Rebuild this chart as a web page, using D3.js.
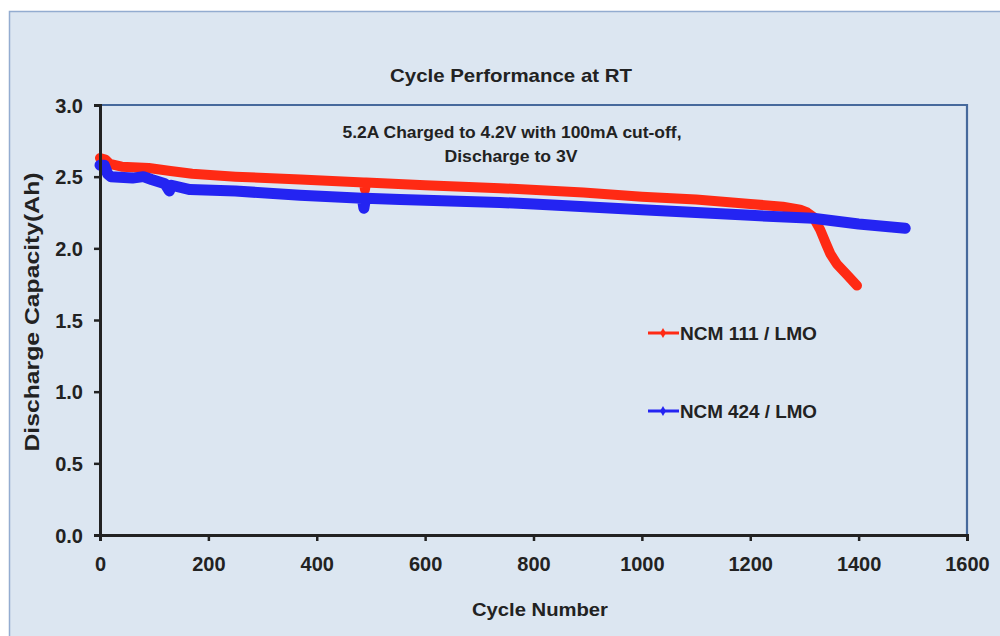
<!DOCTYPE html>
<html><head><meta charset="utf-8">
<script src="https://cdn.jsdelivr.net/npm/d3@7"></script>
<style>html,body{margin:0;padding:0;background:#fff;overflow:hidden}</style>
</head><body>
<svg id="chart" width="1000" height="636"></svg>
<script>
// ---- data ----
const ncm111Cycles = [0,10,18,40,90,130,170,250,370,487,489,491,600,738,892,1000,1100,1200,1260,1292,1305,1316,1329,1340,1348,1360,1380,1397];
const ncm111Capacity = [2.63,2.62,2.59,2.57,2.56,2.54,2.52,2.50,2.48,2.46,2.41,2.46,2.44,2.42,2.39,2.36,2.34,2.31,2.29,2.27,2.25,2.22,2.13,2.03,1.96,1.89,1.81,1.74];
const ncm424Cycles = [0,8,14,20,60,80,95,120,128,132,166,250,369,484,487,490,554,738,800,1000,1200,1316,1400,1486];
const ncm424Capacity = [2.58,2.58,2.52,2.50,2.49,2.50,2.48,2.45,2.40,2.44,2.41,2.40,2.37,2.35,2.28,2.35,2.34,2.32,2.31,2.27,2.23,2.21,2.17,2.14];
const xTicks = [0,200,400,600,800,1000,1200,1400,1600];
const yTicks = [0.0,0.5,1.0,1.5,2.0,2.5,3.0];
const seriesNames = ["NCM 111 / LMO","NCM 424 / LMO"];
const seriesColors = ["#ff2a14","#2424f2"];

const svg = d3.select("#chart");
const font = "'Liberation Sans', Arial, sans-serif";

// outer panel
svg.append("rect").attr("x",9.5).attr("y",11.5).attr("width",1010).attr("height",700)
  .attr("fill","#dce6f1").attr("stroke","#93acd0").attr("stroke-width",1.5);

const L=100, R=967, T=105, B=535;
const x = d3.scaleLinear().domain([0,1600]).range([L,R]);
const y = d3.scaleLinear().domain([0,3]).range([B,T]);

// top/right frame
svg.append("path").attr("d",`M${L},${T}H${R}V${B}`).attr("fill","none")
  .attr("stroke","#46699c").attr("stroke-width",2.2);

// series
const line = d3.line().x(d=>x(d[0])).y(d=>y(d[1])).curve(d3.curveLinear);
const s1 = ncm111Cycles.map((c,i)=>[c,ncm111Capacity[i]]);
const s2 = ncm424Cycles.map((c,i)=>[c,ncm424Capacity[i]]);
svg.append("path").datum(s1).attr("d",line).attr("fill","none").attr("stroke",seriesColors[0])
  .attr("stroke-width",10).attr("stroke-linecap","round").attr("stroke-linejoin","round");
svg.append("path").datum(s2).attr("d",line).attr("fill","none").attr("stroke",seriesColors[1])
  .attr("stroke-width",11).attr("stroke-linecap","round").attr("stroke-linejoin","round");

// axes
const xAxis = svg.append("g").attr("transform",`translate(0,${B})`)
  .call(d3.axisBottom(x).tickValues(xTicks).tickSize(6).tickPadding(16).tickFormat(d3.format("d")));
const yAxis = svg.append("g").attr("transform",`translate(${L},0)`)
  .call(d3.axisLeft(y).tickValues(yTicks).tickSize(6).tickPadding(11).tickFormat(d3.format(".1f")));
[xAxis,yAxis].forEach(g=>{
  g.select(".domain").attr("stroke","#222").attr("stroke-width",3);
  g.selectAll(".tick line").attr("stroke","#222").attr("stroke-width",2.5);
  g.selectAll(".tick text").attr("fill","#222").attr("font-family",font)
    .attr("font-weight","bold").attr("font-size",20);
});
xAxis.selectAll(".tick text").attr("dy","0.71em");
yAxis.selectAll(".tick text").attr("dy","0.36em");

// titles
const txt = (t,xx,yy,size,len)=>svg.append("text").attr("x",xx).attr("y",yy).attr("text-anchor","middle")
  .attr("font-family",font).attr("font-weight","bold").attr("font-size",size).attr("fill","#222")
  .attr("textLength",len).attr("lengthAdjust","spacingAndGlyphs").text(t);
txt("Cycle Performance at RT",511,82,19,242);
txt("5.2A Charged to 4.2V with 100mA cut-off,",512,138,16,339);
txt("Discharge to 3V",511,162,16,133);
txt("Cycle Number",540,616,19,136);
svg.append("text").attr("transform","translate(39,312) rotate(-90)").attr("text-anchor","middle")
  .attr("font-family",font).attr("font-weight","bold").attr("font-size",20).attr("fill","#222")
  .attr("textLength",279).attr("lengthAdjust","spacingAndGlyphs")
  .text("Discharge Capacity(Ah)");

// legend
const legY = [333,411];
seriesNames.forEach((n,i)=>{
  const g = svg.append("g");
  g.append("line").attr("x1",648).attr("x2",679).attr("y1",legY[i]).attr("y2",legY[i])
    .attr("stroke",seriesColors[i]).attr("stroke-width",3);
  g.append("path").attr("d",d3.symbol(d3.symbolDiamond,30)()).attr("transform",`translate(663,${legY[i]})`)
    .attr("fill",seriesColors[i]);
  g.append("text").attr("x",680).attr("y",legY[i]+7).attr("font-family",font).attr("font-weight","bold")
    .attr("font-size",18).attr("fill","#222").attr("textLength",137).attr("lengthAdjust","spacingAndGlyphs").text(n);
});
</script>
</body></html>
